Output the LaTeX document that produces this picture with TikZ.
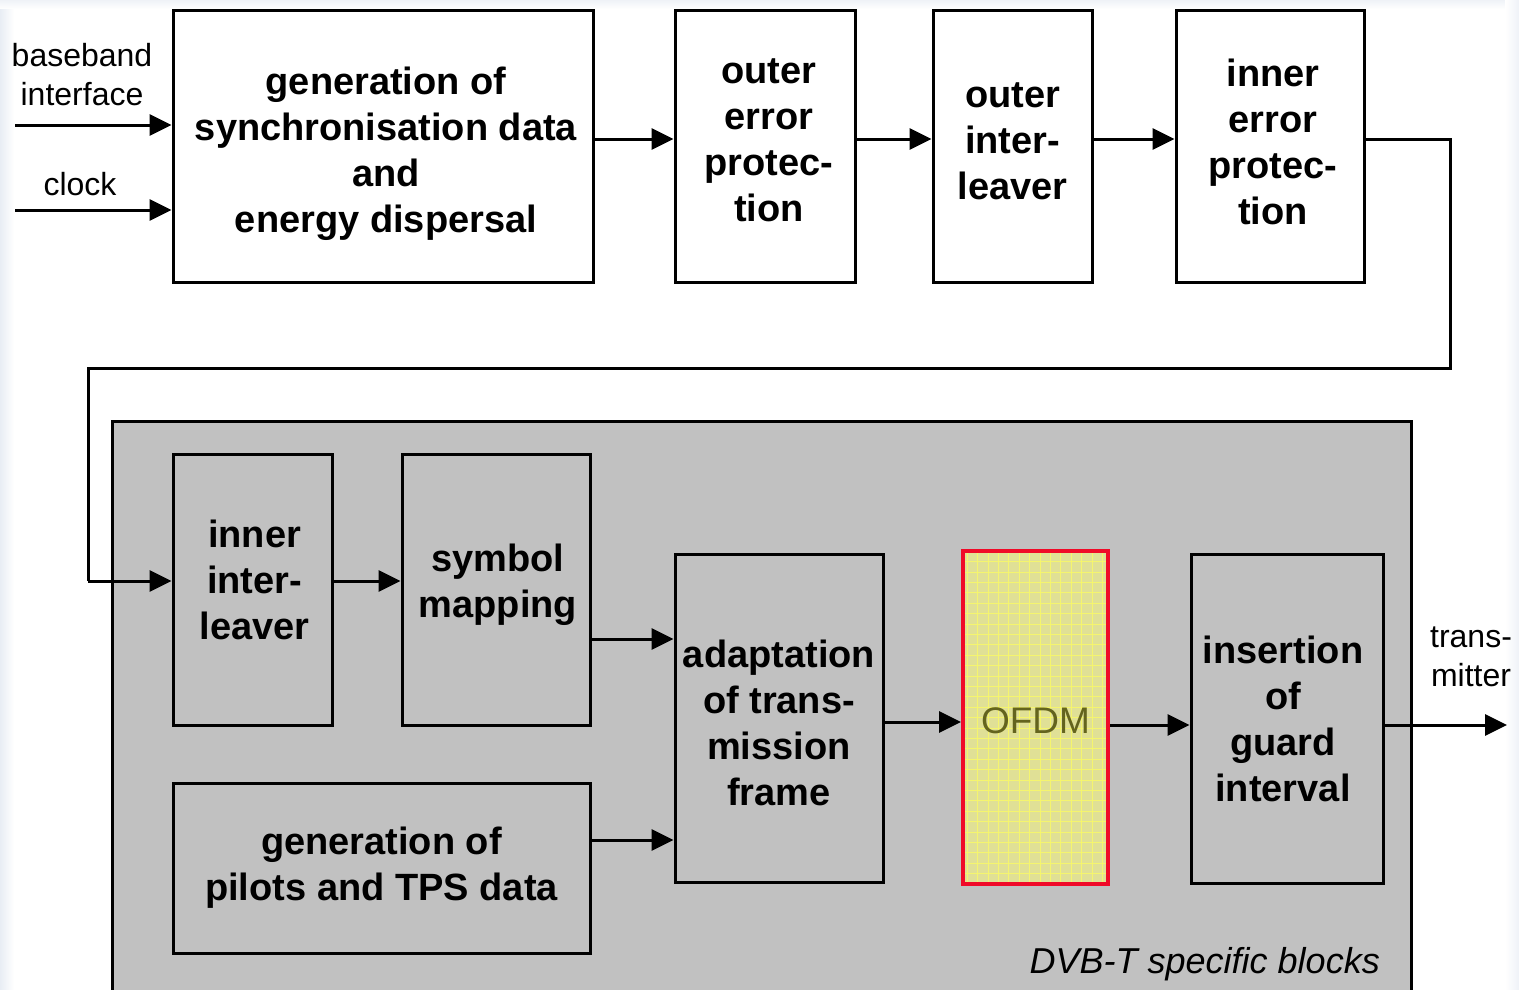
\documentclass[tikz,border=0pt]{standalone}
\usepackage{fontspec}
\setmainfont{Liberation Sans}
\usetikzlibrary{arrows.meta}
\definecolor{boxgray}{RGB}{193,193,193}
\definecolor{ofdmred}{RGB}{240,10,40}
\definecolor{ofdmfill}{RGB}{224,224,150}
\definecolor{ofdmgrid}{RGB}{245,245,110}
\definecolor{ofdmtext}{RGB}{100,100,30}
\definecolor{edgeblue}{RGB}{232,237,244}
\begin{document}
\begin{tikzpicture}[x=1pt,y=-1pt,
 blk/.style={draw=black, line width=3pt, inner sep=0pt},
 txt/.style={inner sep=0pt, align=center, font=\fontsize{38}{46}\selectfont\bfseries},
 arr/.style={line width=3pt, -{Triangle[length=22pt,width=21pt]}},
 lnk/.style={line width=3pt},
 lbl/.style={font=\fontsize{32}{39}\selectfont, align=center, inner sep=0pt}]
\useasboundingbox (0,0) rectangle (1519,990);
\fill[white] (0,0) rectangle (1519,990);
\shade[left color=edgeblue, right color=white] (0,0) rectangle (14,990);
\shade[top color=edgeblue!70, bottom color=white] (0,0) rectangle (1519,9);
\shade[left color=white, right color=edgeblue!70] (1505,0) rectangle (1519,990);

% top row
\node[blk, minimum width=420pt, minimum height=271pt] (sync) at (383,146.5) {};
\node[txt] (synct) at ([xshift=3pt,yshift=-7pt]sync.center)
  {generation of\\synchronisation data\\and\\energy dispersal};
\node[blk, minimum width=180pt, minimum height=271pt] (oep) at (765,146.5) {};
\node[txt] (oept) at ([xshift=4pt,yshift=6pt]oep.center) {outer\\error\\protec-\\tion};
\node[blk, minimum width=159pt, minimum height=271pt] (oil) at (1012.5,146.5) {};
\node[txt] (oilt) at ([yshift=5pt]oil.center) {outer\\inter-\\leaver};
\node[blk, minimum width=188pt, minimum height=271pt] (iep) at (1270,146.5) {};
\node[txt] (iept) at ([xshift=3pt,yshift=5pt]iep.center) {inner\\error\\protec-\\tion};

% inputs
\coordinate (bbin) at (15,125);
\coordinate (clkin) at (15,210);
\node[lbl] (bbl) at (82,75) {baseband\\interface};
\node[lbl] (clkl) at (80,184) {clock};
\draw[arr] (bbin) -- (sync.west |- bbin);
\draw[arr] (clkin) -- (sync.west |- clkin);

\coordinate (ytop) at (0,139);
\draw[arr] (sync.east |- ytop) -- (oep.west |- ytop);
\draw[arr] (oep.east |- ytop) -- (oil.west |- ytop);
\draw[arr] (oil.east |- ytop) -- (iep.west |- ytop);

% DVB-T region
\fill[boxgray] (112,421) rectangle (1411,1000);
\draw[line width=3pt] (112,1000) -- (112,421) -- (1411,421) -- (1411,1000);
\node[anchor=base east, inner sep=0pt, font=\fontsize{36}{40}\selectfont\itshape] (dvbt)
  at (1380,973) {DVB-T specific blocks};

\node[blk, minimum width=159pt, minimum height=271pt] (iil) at (252.5,589.5) {};
\node[txt] (iilt) at ([xshift=2pt,yshift=10pt]iil.center) {inner\\inter-\\leaver};
\node[blk, minimum width=188pt, minimum height=271pt] (sm) at (496,589.5) {};
\node[txt] (smt) at ([xshift=2pt,yshift=5pt]sm.center) {symbol\\mapping};
\node[blk, minimum width=417pt, minimum height=170pt] (gp) at (381.5,868) {};
\node[txt] (gpt) at (gp.center) {generation of\\pilots and TPS data};
\node[blk, minimum width=208pt, minimum height=328pt] (ad) at (779,718) {};
\node[txt] (adt) at ([yshift=-5pt]ad.center) {adaptation\\of trans-\\mission\\frame};
\node[blk, minimum width=192pt, minimum height=329pt] (gi) at (1287,718.5) {};
\node[txt] (git) at ([xshift=-4pt]gi.center) {insertion\\of\\guard\\interval};

% OFDM
\fill[ofdmfill] (963,551) rectangle (1108,884);
\draw[ofdmgrid, line width=0.9pt, step=10.4pt] (965,553) grid (1106,882);
\node[draw=ofdmred, line width=4pt, inner sep=0pt, minimum width=145pt, minimum height=333pt] (ofdm) at (1035.5,717.5) {};
\node[inner sep=0pt, font=\fontsize{37}{40}\selectfont, text=ofdmtext] (ofdmt) at ([yshift=-3pt]ofdm.center) {OFDM};

% loop connector
\coordinate (c1) at (1450,139);
\coordinate (c2) at (1450,368);
\coordinate (c3) at (88,368);
\coordinate (c4) at (88,581);
\draw[lnk] (iep.east |- c1) -- (c1) -- (c2) -- (c3) -- (c4);
\draw[arr] (c4) -- (iil.west |- c4);

\coordinate (ysm) at (0,581);
\draw[arr] (iil.east |- ysm) -- (sm.west |- ysm);
\coordinate (ysa) at (0,639);
\draw[arr] (sm.east |- ysa) -- (ad.west |- ysa);
\coordinate (ypa) at (0,840);
\draw[arr] (gp.east |- ypa) -- (ad.west |- ypa);
\coordinate (yao) at (0,722);
\draw[arr] (ad.east |- yao) -- (ofdm.west |- yao);
\coordinate (yog) at (0,725);
\draw[arr] (ofdm.east |- yog) -- (gi.west |- yog);

% output
\coordinate (out) at (1507,725);
\draw[arr] (gi.east |- out) -- (out);
\node[lbl] (txl) at (1471,657) {trans-\\mitter};
\end{tikzpicture}
\end{document}
